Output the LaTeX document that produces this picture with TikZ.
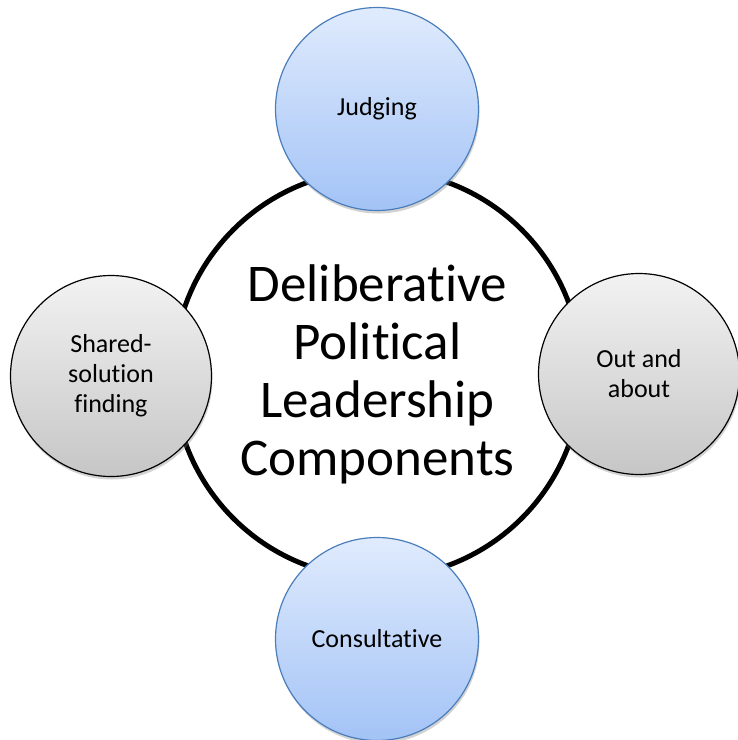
\documentclass[tikz,border=0pt]{standalone}
\usepackage{fontspec}
\setmainfont{Carlito}[Ligatures=NoCommon]
\usetikzlibrary{shadows}
\definecolor{blueTop}{HTML}{E0EBFD}
\definecolor{blueBot}{HTML}{A3C3F6}
\definecolor{blueLine}{HTML}{4A7EBB}
\definecolor{grayTop}{HTML}{F2F2F2}
\definecolor{grayBot}{HTML}{C6C6C6}
\tikzset{
  bigcirc/.style={circle, draw=black, line width=5pt, fill=white, minimum size=408pt, inner sep=0pt, align=center,
    font=\fontsize{53}{58}\selectfont},
  bluecirc/.style={circle, draw=blueLine, line width=1.2pt, top color=blueTop, bottom color=blueBot,
    minimum size=203pt, inner sep=0pt, align=center, font=\fontsize{26}{30}\selectfont,
    drop shadow={opacity=0.35, shadow xshift=1pt, shadow yshift=-3pt}},
  graycirc/.style={circle, draw=black, line width=1.2pt, top color=grayTop, bottom color=grayBot,
    minimum size=201pt, inner sep=0pt, align=center, font=\fontsize{26}{30}\selectfont,
    drop shadow={opacity=0.35, shadow xshift=1pt, shadow yshift=-3pt}}
}
\begin{document}
\begin{tikzpicture}[x=1pt,y=-1pt]
\useasboundingbox (0,0) rectangle (738,740);
\node[bigcirc] (main) at (377.5,374) {Deliberative\\Political\\Leadership\\Components};
\node[bluecirc] (judging) at (377,109) {Judging};
\node[bluecirc] (consult) at (377,639) {Consultative};
\node[graycirc] (shared) at (111,376) {Shared-\\solution\\finding};
\node[graycirc] (out) at (639,374) {Out and\\about};
\end{tikzpicture}
\end{document}
